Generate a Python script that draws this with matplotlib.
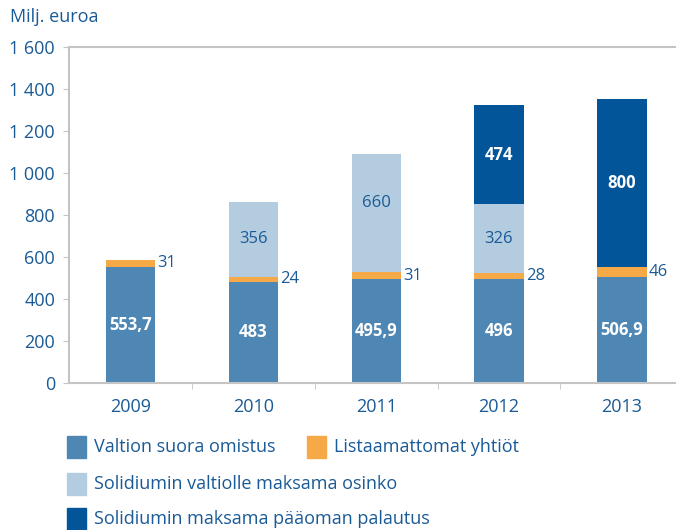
import numpy as np
import matplotlib.pyplot as plt
from matplotlib.patches import Rectangle

plt.rcParams['font.family'] = ['Open Sans', 'DejaVu Sans']

years = ['2009', '2010', '2011', '2012', '2013']
valtio = [553.7, 483, 495.9, 496, 506.9]
listaamattomat = [31, 24, 31, 28, 46]
# drawn heights (2011 bar is drawn shorter than its label)
osinko = [0, 356, 563, 326, 0]
palautus = [0, 0, 0, 474, 800]

valtio_labels = ['553,7', '483', '495,9', '496', '506,9']
osinko_labels = [0, 356, 660, 326, 0]
series_names = ['Valtion suora omistus', 'Listaamattomat yhtiöt',
                'Solidiumin valtiolle maksama osinko',
                'Solidiumin maksama pääoman palautus']
colors = ['#4e87b4', '#f5a947', '#b3cce0', '#03559a']
text_color = '#1a5a96'
axis_color = '#c4c4c4'

fig = plt.figure(figsize=(6.76, 5.30), dpi=100)
ax = fig.add_axes([0.102, 0.2774, 0.898, 0.6339])

x = np.arange(len(years))
width = 0.4

b1 = np.array(valtio)
b2 = b1 + np.array(listaamattomat)
b3 = b2 + np.array(osinko)

ax.bar(x, valtio, width, color=colors[0])
ax.bar(x, listaamattomat, width, bottom=b1, color=colors[1])
ax.bar(x, osinko, width, bottom=b2, color=colors[2])
ax.bar(x, palautus, width, bottom=b3, color=colors[3])

# value labels
for i in range(len(years)):
    ax.text(x[i], valtio[i] / 2, valtio_labels[i], ha='center', va='center',
            color='white', fontsize=12, fontweight='bold')
    ax.text(x[i] + width / 2 + 0.02, b1[i] + listaamattomat[i] / 2,
            str(listaamattomat[i]), ha='left', va='center',
            color=text_color, fontsize=12)
    if osinko_labels[i] > 0:
        ax.text(x[i], b2[i] + osinko_labels[i] / 2, str(osinko_labels[i]),
                ha='center', va='center', color=text_color, fontsize=12)
    if palautus[i] > 0:
        ax.text(x[i], b3[i] + palautus[i] / 2, str(palautus[i]), ha='center',
                va='center', color='white', fontsize=12, fontweight='bold')

ax.set_xlim(-0.5, 4.44)
ax.set_ylim(0, 1600)
yt = np.arange(0, 1601, 200)
ax.set_yticks(yt)
ax.set_yticklabels(['{:,}'.format(v).replace(',', ' ') for v in yt])
ax.set_xticks(x)
ax.set_xticklabels(years)
ax.set_xticks(np.arange(0.5, 4.5, 1), minor=True)
ax.tick_params(axis='x', which='major', length=0, pad=11, labelsize=13,
               labelcolor=text_color)
ax.tick_params(axis='x', which='minor', length=4, color=axis_color)
ax.tick_params(axis='y', length=4, color=axis_color, pad=6, labelsize=13,
               labelcolor=text_color)

for s in ['left', 'bottom', 'top']:
    ax.spines[s].set_color(axis_color)
    ax.spines[s].set_linewidth(1.5)
ax.spines['right'].set_visible(False)

fig.text(10 / 676, 1 - 17 / 530, 'Milj. euroa', ha='left', va='center',
         color=text_color, fontsize=13)

# legend
legend_pos = [(67, 447), (307, 447), (67, 484), (67, 519)]
for (px, py), name, c in zip(legend_pos, series_names, colors):
    fig.patches.append(Rectangle((px / 676, 1 - (py + 11) / 530), 19 / 676, 22 / 530,
                                 transform=fig.transFigure, color=c))
    fig.text((px + 27) / 676, 1 - py / 530, name, ha='left', va='center',
             color=text_color, fontsize=13)

plt.savefig('out.png', dpi=100)
